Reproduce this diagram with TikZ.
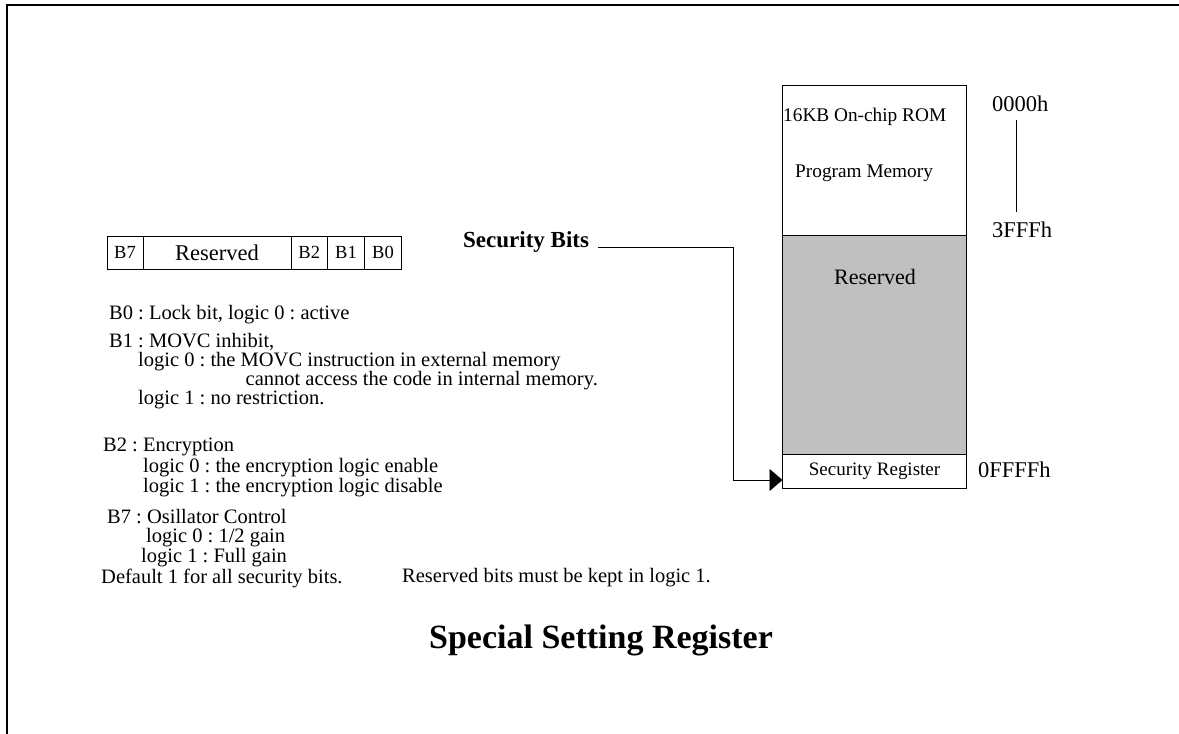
\documentclass[tikz,border=0pt]{standalone}
\usepackage{fontspec}
\setmainfont{Liberation Serif}
\usetikzlibrary{arrows.meta,positioning}
\definecolor{rsvgray}{RGB}{192,192,192}
\frenchspacing

\begin{document}
\begin{tikzpicture}[x=1pt,y=-1pt,>=Latex,
  line/.style={line width=0.9pt},
  txt/.style={anchor=west,inner sep=0pt,font=\fontsize{20.5}{22}\selectfont},
  bitcell/.style={draw,line width=0.9pt,minimum height=33pt,inner sep=0pt,outer sep=0pt,font=\fontsize{18.5}{20}\selectfont},
  memblock/.style={draw,line width=0.9pt,minimum width=184pt,inner sep=0pt,outer sep=0pt},
  addr/.style={anchor=west,inner sep=0pt,font=\fontsize{22.5}{24}\selectfont}]
  \useasboundingbox (0,0) rectangle (1179,734);
  \draw[line width=2pt] (7,734) -- (7,5) -- (1179,5);

  \node[bitcell,minimum width=36pt] (cb7) at (125,252.5) {B7};
  \node[bitcell,minimum width=148pt,right=0pt of cb7,font=\fontsize{22.5}{24}\selectfont] (crsv) {Reserved};
  \node[bitcell,minimum width=36.5pt,right=0pt of crsv] (cb2) {B2};
  \node[bitcell,minimum width=37pt,right=0pt of cb2] (cb1) {B1};
  \node[bitcell,minimum width=37pt,right=0pt of cb1] (cb0) {B0};

  \node[txt] (b0) at (109,315) {B0 : Lock bit, logic 0 : active};
  \node[txt] (b1) at (109,342) {B1 : MOVC inhibit,};
  \node[txt] (b1a) at (138,362) {logic 0 : the MOVC instruction in external memory};
  \node[txt,anchor=east] (b1b) at (598,381) {cannot access the code in internal memory.};
  \node[txt] (b1c) at (138,400) {logic 1 : no restriction.};
  \node[txt] (b2) at (103,447) {B2 : Encryption};
  \node[txt] (b2a) at (143,468) {logic 0 : the encryption logic enable};
  \node[txt] (b2b) at (143,488) {logic 1 : the encryption logic disable};
  \node[txt] (b7) at (107,517) {B7 : Osillator Control};
  \node[txt] (b7a) at (146,538) {logic 0 : 1/2 gain};
  \node[txt] (b7b) at (141,558) {logic 1 : Full gain};
  \node[txt] (dflt) at (101,578) {Default 1 for all security bits.};
  \node[txt] (keep) at (402,578) {Reserved bits must be kept in logic 1.};

  \node[memblock,minimum height=150pt,anchor=north west] (rom) at (782.5,85) {};
  \node[memblock,minimum height=219pt,below=0pt of rom,fill=rsvgray] (mrsv) {};
  \node[memblock,minimum height=34pt,below=0pt of mrsv,font=\fontsize{19}{20}\selectfont] (secreg) {Security Register};
  \node[anchor=west,inner sep=0pt,font=\fontsize{19.3}{22}\selectfont] (romname) at (783,117) {16KB On-chip ROM};
  \node[anchor=west,inner sep=0pt,font=\fontsize{19.3}{22}\selectfont] (progmem) at (795,173) {Program Memory};
  \node[inner sep=0pt,font=\fontsize{22}{24}\selectfont] (rsvtxt) at (875,277) {Reserved};

  \node[addr] (a0000) at (992,104) {0000h};
  \node[addr] (a3fff) at (992,230) {3FFFh};
  \node[addr] (affff) at (978,470) {0FFFFh};
  \draw[line,shorten <=8pt,shorten >=10pt] ([xshift=-4pt]a0000.south) -- ([xshift=-4pt]a0000.south |- a3fff.north);

  \node[anchor=west,inner sep=0pt,font=\bfseries\fontsize{23}{26}\selectfont] (secbits) at (463,242) {Security Bits};
  \coordinate (bend) at (733,247);
  \draw[line,-{Triangle[length=13pt,width=22pt]}] ([xshift=9pt,yshift=-5pt]secbits.east) -- (bend) |- ([yshift=-9pt]secreg.west);

  \node[inner sep=0pt,font=\bfseries\fontsize{34}{36}\selectfont] (title) at (601,640) {Special Setting Register};
\end{tikzpicture}
\end{document}
